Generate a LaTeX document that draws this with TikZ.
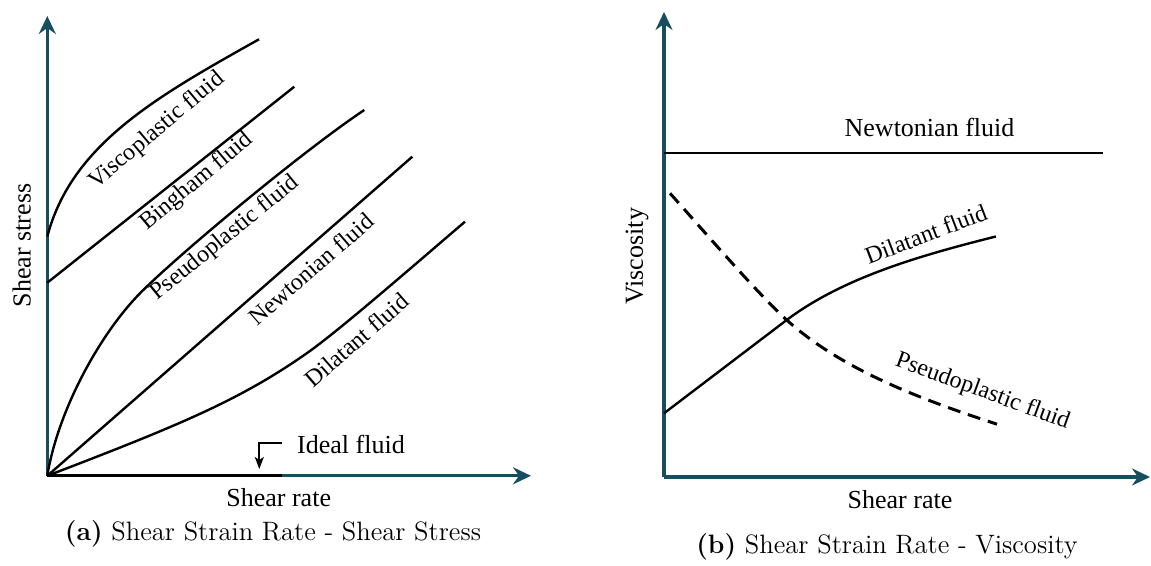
\documentclass[tikz,border=0pt]{standalone}
\usepackage{fontspec}
\newfontfamily\plotfont{Liberation Serif}
\usetikzlibrary{arrows.meta}
\definecolor{axisteal}{RGB}{22,78,96}

\begin{document}
\begin{tikzpicture}[x=0.5pt,y=-0.5pt,
  axis/.style={line width=1.6pt, axisteal, -{Stealth[length=9pt,width=8.5pt,inset=3pt]}},
  curve/.style={line width=1.2pt},
  lbl/.style={font=\plotfont\fontsize{12}{14}\selectfont, inner sep=1pt},
  axlbl/.style={font=\plotfont\fontsize{13}{15}\selectfont, inner sep=1pt},
  capt/.style={font=\fontsize{13.3}{16}\selectfont, inner sep=1pt}]
\useasboundingbox (0,0) rectangle (1151,566);

\coordinate (oa) at (47.3,475.8);
\coordinate (ya) at (47.3,16);
\coordinate (xa) at (531,475.8);
\coordinate (ia) at (282,475.8);
\draw [axis] (oa) -- (ya);
\draw [axis] (oa) -- (xa);
\draw [line width=1.6pt] (oa) -- (ia);
\draw [curve] (47.3,236.5) .. controls (71.5,144.7) and (155.6,97.2) .. (259,39.3);
\draw [curve] (47.3,282.7) -- (294.3,86.7);
\draw [curve] (oa) .. controls (58,410) and (100,334) .. (140,293.3) .. controls (175,257.7) and (300,153) .. (364.3,110);
\draw [curve] (oa) -- (412.3,156.7);
\draw [curve] (oa) .. controls (180,425) and (240,400) .. (306.7,353.3) .. controls (340,330) and (420,260) .. (465,221.7);
\node [lbl, rotate=40] (visco) at (157,130.7) {Viscoplastic fluid};
\node [lbl, rotate=40] (bingham) at (196.7,181.7) {Bingham fluid};
\node [lbl, rotate=39] (pseudo) at (225,238.3) {Pseudoplastic fluid};
\node [lbl, rotate=41] (newton) at (311,269) {Newtonian fluid};
\node [lbl, rotate=41] (dilat) at (356.7,340) {Dilatant fluid};
\node [axlbl] (ideal) at (351,444) {Ideal fluid};
\coordinate (ib) at (281.7,443.3);
\coordinate (ic) at (259.3,443.3);
\coordinate (it) at (259.3,469);
\draw [line width=1pt, -{Stealth[length=6pt,width=4.5pt,inset=1.5pt]}] (ib) -- (ic) -- (it);
\node [axlbl, rotate=90] (stress) at (21.7,245.5) {Shear stress};
\node [axlbl] (ratea) at (278.7,498) {Shear rate};
\node [capt] (capa) at (273,534) {\textbf{(a)} Shear Strain Rate - Shear Stress};

\coordinate (ob) at (664,477);
\coordinate (yb) at (664,12);
\coordinate (xb) at (1150,477);
\draw [axis] (ob) -- (yb);
\draw [axis] (ob) -- (xb);
\draw [curve] (664,153) -- (1102.7,153);
\draw [line width=1.5pt, dash pattern=on 6.5pt off 4pt] (670,193.3) .. controls (696.8,223) and (757,293.2) .. (786.7,320) .. controls (838.7,366.8) and (911.4,396.4) .. (997,424.2);
\draw [curve] (664,413.3) -- (786.7,320) .. controls (842.7,278) and (918.3,255.9) .. (995.9,236.5);
\node [axlbl] (newtonb) at (929.5,127) {Newtonian fluid};
\node [lbl, rotate=21] (dilatb) at (925.8,234) {Dilatant fluid};
\node [lbl, rotate=-20] (pseudob) at (982.5,391.7) {Pseudoplastic fluid};
\node [axlbl, rotate=90] (visc) at (637,256.3) {Viscosity};
\node [axlbl] (rateb) at (900,500) {Shear rate};
\node [capt] (capb) at (887,547) {\textbf{(b)} Shear Strain Rate - Viscosity};
\end{tikzpicture}
\end{document}
